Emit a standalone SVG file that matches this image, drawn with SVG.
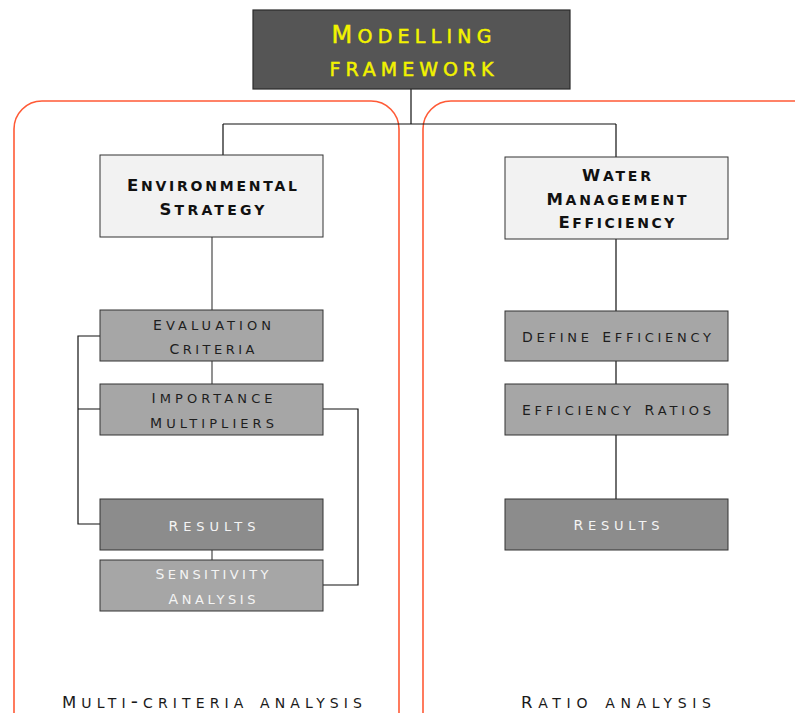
<svg xmlns="http://www.w3.org/2000/svg" width="795" height="713" viewBox="0 0 795 713">
<style>
text{font-family:"DejaVu Sans","Liberation Sans",sans-serif;font-variant:small-caps;text-anchor:middle}
.title{font-size:27px;fill:#f2f200;stroke:#f2f200;stroke-width:0.5}
.title .c{font-size:24px}
.head{font-size:19.5px;font-weight:bold;fill:#111}
.head .c{font-size:16.5px}
.lab{font-size:18.5px;fill:#1e1e1e}
.wlab{font-size:18.5px;fill:#f4f4f4}
.lab .c,.wlab .c{font-size:14px}
.foot{font-size:20px;fill:#1a1a1a}
.foot .c{font-size:16.5px}
.box{stroke:#333;stroke-width:1}
.light{fill:#f2f2f2}
.mid{fill:#a6a6a6}
.dark{fill:#8c8c8c}
.frame{fill:none;stroke:#ff5a36;stroke-width:1.6}
.conn{fill:none;stroke:#111;stroke-width:1.2}
.gconn{fill:none;stroke:#777;stroke-width:1.6}
</style>
<rect width="795" height="713" fill="#fff"/>
<g id="frames">
<rect class="frame" x="14" y="101" width="385" height="640" rx="28"/>
<rect class="frame" x="423" y="101" width="420" height="640" rx="28"/>
</g>
<g id="connectors">
<path class="conn" d="M411 89V124M223 124H616M223 124V155M616 124V157"/>
<path class="gconn" d="M212 237V310M212 361V384M212 550V560"/>
<path class="conn" d="M100 336H78V524H100M78 409H100"/>
<path class="conn" d="M323 409H358V585H323"/>
<path class="conn" d="M616 239V311M616 361V384M616 435V499"/>
</g>
<g id="top">
<rect x="253" y="10" width="317" height="79" fill="#555" stroke="#2a2a2a" stroke-width="1.2"/>
<text class="title" x="411.5" y="43" textLength="160" lengthAdjust="spacing"><tspan class="c">M</tspan>odelling</text>
<text class="title" x="411.5" y="76" textLength="164" lengthAdjust="spacing">framework</text>
</g>
<g id="env">
<rect class="box light" x="100" y="155" width="223" height="82"/>
<text class="head" x="212" y="191" textLength="170" lengthAdjust="spacing"><tspan class="c">E</tspan>nvironmental</text>
<text class="head" x="212" y="215" textLength="105" lengthAdjust="spacing"><tspan class="c">S</tspan>trategy</text>
</g>
<g id="water">
<rect class="box light" x="505" y="157" width="223" height="82"/>
<text class="head" x="616.5" y="181" textLength="69" lengthAdjust="spacing"><tspan class="c">W</tspan>ater</text>
<text class="head" x="616.5" y="205" textLength="140" lengthAdjust="spacing"><tspan class="c">M</tspan>anagement</text>
<text class="head" x="616.5" y="228" textLength="116" lengthAdjust="spacing"><tspan class="c">E</tspan>fficiency</text>
</g>
<g id="eval">
<rect class="box mid" x="100" y="310" width="223" height="51"/>
<text class="lab" x="212" y="330" textLength="118" lengthAdjust="spacing"><tspan class="c">E</tspan>valuation</text>
<text class="lab" x="212" y="354" textLength="85" lengthAdjust="spacing"><tspan class="c">C</tspan>riteria</text>
</g>
<g id="importance">
<rect class="box mid" x="100" y="384" width="223" height="51"/>
<text class="lab" x="212" y="403" textLength="121" lengthAdjust="spacing"><tspan class="c">I</tspan>mportance</text>
<text class="lab" x="212" y="428" textLength="124" lengthAdjust="spacing"><tspan class="c">M</tspan>ultipliers</text>
</g>
<g id="results-left">
<rect class="box dark" x="100" y="499" width="223" height="51"/>
<text class="wlab" x="212" y="531" textLength="87" lengthAdjust="spacing"><tspan class="c">R</tspan>esults</text>
</g>
<g id="sensitivity">
<rect class="box mid" x="100" y="560" width="223" height="51"/>
<text class="wlab" x="212" y="579" textLength="113" lengthAdjust="spacing"><tspan class="c">S</tspan>ensitivity</text>
<text class="wlab" x="212" y="604" textLength="87" lengthAdjust="spacing"><tspan class="c">A</tspan>nalysis</text>
</g>
<g id="define">
<rect class="box mid" x="505" y="311" width="223" height="50"/>
<text class="lab" x="616.5" y="342" textLength="189" lengthAdjust="spacing"><tspan class="c">D</tspan>efine <tspan class="c">E</tspan>fficiency</text>
</g>
<g id="ratios">
<rect class="box mid" x="505" y="384" width="223" height="51"/>
<text class="lab" x="616.5" y="415" textLength="189" lengthAdjust="spacing"><tspan class="c">E</tspan>fficiency <tspan class="c">R</tspan>atios</text>
</g>
<g id="results-right">
<rect class="box dark" x="505" y="499" width="223" height="51"/>
<text class="wlab" x="616.5" y="530" textLength="86" lengthAdjust="spacing"><tspan class="c">R</tspan>esults</text>
</g>
<g id="labels">
<text class="foot" x="212" y="708" textLength="300" lengthAdjust="spacing"><tspan class="c">M</tspan>ulti-criteria analysis</text>
<text class="foot" x="616" y="708" textLength="190" lengthAdjust="spacing"><tspan class="c">R</tspan>atio analysis</text>
</g>
</svg>
